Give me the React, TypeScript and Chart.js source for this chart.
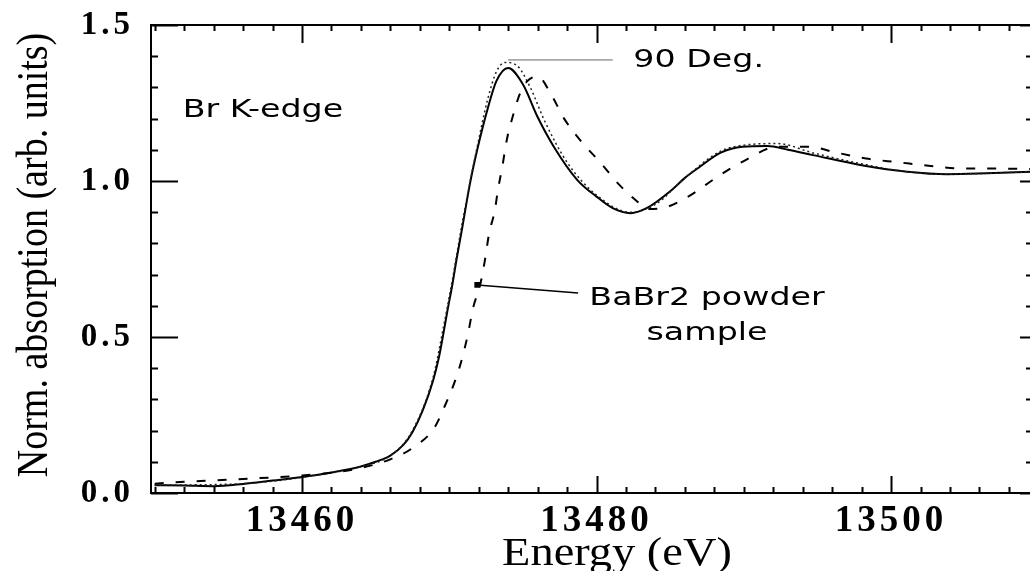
import React, { useEffect, useRef } from "react";
import { Chart, registerables } from "chart.js";

Chart.register(...registerables);

// ---- Data (energy in eV, normalized absorption) ----
const solidX = [13450, 13452, 13454, 13456, 13458, 13460, 13462, 13464, 13465, 13466, 13466.9, 13467.5, 13468.2, 13468.9, 13469.3, 13469.6, 13469.9, 13470.2, 13470.5, 13470.9, 13471.4, 13471.9, 13472.6, 13473.2, 13474.0, 13475.0, 13476.0, 13477.1, 13478.7, 13480.0, 13481.1, 13482.3, 13483.4, 13485.2, 13486.0, 13487.0, 13488.4, 13489.9, 13491.6, 13493.0, 13494.7, 13498.1, 13501.1, 13503.8, 13506.5, 13509.5];
const solidY = [0.025, 0.024, 0.022, 0.029, 0.040, 0.051, 0.066, 0.085, 0.100, 0.120, 0.155, 0.195, 0.265, 0.36, 0.435, 0.51, 0.59, 0.665, 0.75, 0.855, 0.99, 1.10, 1.23, 1.32, 1.362, 1.31, 1.205, 1.11, 1.003, 0.95, 0.913, 0.897, 0.913, 0.975, 1.01, 1.045, 1.09, 1.11, 1.112, 1.10, 1.083, 1.05, 1.03, 1.022, 1.025, 1.03];

const dottedX = [13450, 13456, 13460, 13464, 13466, 13467.5, 13468.9, 13469.6, 13470.2, 13470.9, 13471.9, 13472.6, 13473.2, 13473.8, 13474.6, 13475.5, 13476.5, 13478.0, 13480.0, 13482.3, 13484.0, 13486.0, 13488.4, 13490.0, 13492.3, 13494.7, 13498.0, 13501.0, 13504.0, 13509.5];
const dottedY = [0.025, 0.03, 0.05, 0.085, 0.12, 0.2, 0.37, 0.53, 0.68, 0.87, 1.11, 1.26, 1.35, 1.38, 1.37, 1.3, 1.19, 1.06, 0.955, 0.9, 0.925, 1.01, 1.095, 1.115, 1.12, 1.09, 1.055, 1.03, 1.022, 1.03];

const dashedX = [13450, 13452, 13454, 13456, 13458, 13460, 13462, 13464, 13466, 13467.5, 13469.0, 13469.8, 13470.4, 13470.9, 13471.3, 13471.6, 13472.1, 13472.4, 13472.7, 13473.1, 13473.3, 13473.6, 13473.9, 13474.3, 13474.8, 13475.3, 13476.0, 13477.0, 13477.8, 13478.9, 13480.3, 13481.5, 13482.8, 13483.5, 13484.8, 13486.5, 13488.1, 13490.0, 13492.3, 13494.5, 13496.1, 13498.3, 13500.5, 13502.7, 13504.9, 13507.0, 13509.5];
const dashedY = [0.030, 0.036, 0.040, 0.045, 0.050, 0.056, 0.065, 0.080, 0.108, 0.144, 0.21, 0.29, 0.36, 0.436, 0.516, 0.59, 0.667, 0.74, 0.83, 0.907, 0.97, 1.045, 1.13, 1.205, 1.28, 1.32, 1.335, 1.27, 1.20, 1.13, 1.057, 0.99, 0.933, 0.91, 0.917, 0.958, 1.01, 1.064, 1.11, 1.11, 1.093, 1.072, 1.06, 1.048, 1.04, 1.04, 1.038];

// leader lines of the annotations (data coordinates)
const leader90X = [13474.0, 13481.1];
const leader90Y = [1.388, 1.388];
const leaderBaX = [13471.9, 13478.75];
const leaderBaY = [0.667, 0.641];

// annotation texts
const noteTexts = ["Br K-edge", "90 Deg.", "BaBr2 powder", "sample"];
const noteX = [13451.9, 13482.5, 13487.5, 13487.5];
const noteY = [1.205, 1.365, 0.603, 0.49];
const noteAlign = ["left", "left", "center", "center"];

// axes
const xMin = 13449.75;
const xMax = 13509.5;
const yMin = 0;
const yMax = 1.5;
const xTickValues = [13460, 13480, 13500];
const yTickValues = [0, 0.5, 1.0, 1.5];
const xMinorStep = 2;
const xMajorStep = 20;
const yMinorStep = 0.1;
const xTitle = "Energy (eV)";
const yTitle = "Norm. absorption (arb. units)";

const toXY = (xs: number[], ys: number[]) => xs.map((x, i) => ({ x, y: ys[i] }));

const framePlugin = {
  id: "framePlugin",
  beforeDraw(chart: any) {
    chart.ctx.letterSpacing = "4px";
  },
  beforeDatasetsDraw(chart: any) {
    chart.ctx.letterSpacing = "0px";
  },
  afterDatasetsDraw(chart: any) {
    const { ctx, chartArea: a } = chart;
    const xs = chart.scales.x;
    const ys = chart.scales.y;
    ctx.save();
    ctx.letterSpacing = "0px";
    ctx.strokeStyle = "#000";
    ctx.lineWidth = 2;
    ctx.strokeRect(a.left, a.top, a.right - a.left, a.bottom - a.top);

    ctx.beginPath();
    const nx = Math.round((xMax - 13450) / xMinorStep);
    for (let i = 0; i <= nx; i++) {
      const v = 13450 + i * xMinorStep;
      if (v < xMin || v > xMax) continue;
      const px = Math.round(xs.getPixelForValue(v)) + 0.5;
      const major = Math.abs(v % xMajorStep) < 1e-6;
      ctx.moveTo(px, a.bottom);
      ctx.lineTo(px, a.bottom - (major ? 17 : 6));
      ctx.moveTo(px, a.top);
      ctx.lineTo(px, a.top + (major ? 18 : 6));
    }
    const ny = Math.round((yMax - yMin) / yMinorStep);
    for (let i = 0; i <= ny; i++) {
      const v = yMin + i * yMinorStep;
      const py = Math.round(ys.getPixelForValue(v)) + 0.5;
      const major = i % 5 === 0;
      ctx.moveTo(a.left, py);
      ctx.lineTo(a.left + (major ? 27 : 7), py);
      ctx.moveTo(a.right, py);
      ctx.lineTo(a.right - (major ? 11 : 5), py);
    }
    ctx.stroke();

    // annotations
    ctx.fillStyle = "#000";
    ctx.font = "25px 'DejaVu Sans'";
    ctx.textBaseline = "alphabetic";
    noteTexts.forEach((t, i) => {
      const px = xs.getPixelForValue(noteX[i]);
      const py = ys.getPixelForValue(noteY[i]);
      ctx.save();
      ctx.translate(px, py);
      ctx.scale(1.33, 1);
      ctx.textAlign = noteAlign[i];
      ctx.fillText(t, 0, 0);
      ctx.restore();
    });

    // axis titles
    ctx.font = "40px 'Liberation Serif'";
    ctx.save();
    ctx.translate(617, 565);
    ctx.scale(1.16, 1);
    ctx.textAlign = "center";
    ctx.fillText(xTitle, 0, 0);
    ctx.restore();

    ctx.font = "44px 'Liberation Serif'";
    ctx.save();
    ctx.translate(47, 255);
    ctx.rotate(-Math.PI / 2);
    ctx.scale(0.864, 1);
    ctx.textAlign = "center";
    ctx.fillText(yTitle, 0, 0);
    ctx.restore();

    ctx.restore();
  },
};

export default function App() {
  const canvasRef = useRef<HTMLCanvasElement | null>(null);

  useEffect(() => {
    const canvas = canvasRef.current;
    if (!canvas) return;
    const chart = new Chart(canvas, {
      type: "line",
      data: {
        datasets: [
          {
            label: "BaBr2 powder sample",
            data: toXY(dashedX, dashedY),
            borderColor: "#000",
            borderWidth: 2,
            borderDash: [9, 12],
            pointRadius: 0,
            cubicInterpolationMode: "monotone",
            fill: false,
          },
          {
            label: "90 Deg. (dotted)",
            data: toXY(dottedX, dottedY),
            borderColor: "#222",
            borderWidth: 1.5,
            borderDash: [2, 3],
            pointRadius: 0,
            cubicInterpolationMode: "monotone",
            fill: false,
          },
          {
            label: "90 Deg.",
            data: toXY(solidX, solidY),
            borderColor: "#000",
            borderWidth: 2,
            pointRadius: 0,
            cubicInterpolationMode: "monotone",
            fill: false,
          },
          {
            label: "leader 90",
            data: toXY(leader90X, leader90Y),
            borderColor: "#666",
            borderWidth: 1,
            pointRadius: 0,
            fill: false,
          },
          {
            label: "leader BaBr2",
            data: toXY(leaderBaX, leaderBaY),
            borderColor: "#000",
            borderWidth: 1.5,
            pointRadius: [3, 0],
            pointStyle: "rect",
            pointBackgroundColor: "#000",
            pointBorderColor: "#000",
            fill: false,
          },
        ],
      },
      options: {
        animation: false,
        responsive: false,
        devicePixelRatio: 1,
        layout: { padding: { top: 25, right: 9, left: 0, bottom: 0 } },
        plugins: {
          legend: { display: false },
          tooltip: { enabled: false },
          title: { display: false },
        },
        scales: {
          x: {
            type: "linear",
            position: "bottom",
            min: xMin,
            max: xMax,
            grid: { display: false, drawTicks: false },
            border: { display: false },
            afterFit: (s: any) => {
              s.height = 78;
              s.paddingLeft = 0;
              s.paddingRight = 0;
            },
            afterBuildTicks: (s: any) => {
              s.ticks = xTickValues.map((v) => ({ value: v }));
            },
            ticks: {
              autoSkip: false,
              maxRotation: 0,
              padding: 6,
              color: "#000",
              font: { family: "'Liberation Serif'", size: 37, weight: "bold" },
              callback: (v: any) => String(v),
            },
          },
          y: {
            type: "linear",
            min: yMin,
            max: yMax,
            grid: { display: false, drawTicks: false },
            border: { display: false },
            afterFit: (s: any) => {
              s.width = 151;
              s.paddingTop = 0;
              s.paddingBottom = 0;
            },
            afterBuildTicks: (s: any) => {
              s.ticks = yTickValues.map((v) => ({ value: v }));
            },
            ticks: {
              autoSkip: false,
              padding: 17,
              color: "#000",
              font: { family: "'Liberation Serif'", size: 33, weight: "bold" },
              callback: (v: any) => Number(v).toFixed(1),
            },
          },
        },
      },
      plugins: [framePlugin],
    });
    return () => chart.destroy();
  }, []);

  return (
    <div
      style={{
        position: "absolute",
        left: 0,
        top: 0,
        width: 1030,
        height: 571,
        overflow: "hidden",
        background: "#fff",
      }}
    >
      <canvas ref={canvasRef} width={1040} height={571} style={{ width: 1040, height: 571, display: "block" }} />
    </div>
  );
}
